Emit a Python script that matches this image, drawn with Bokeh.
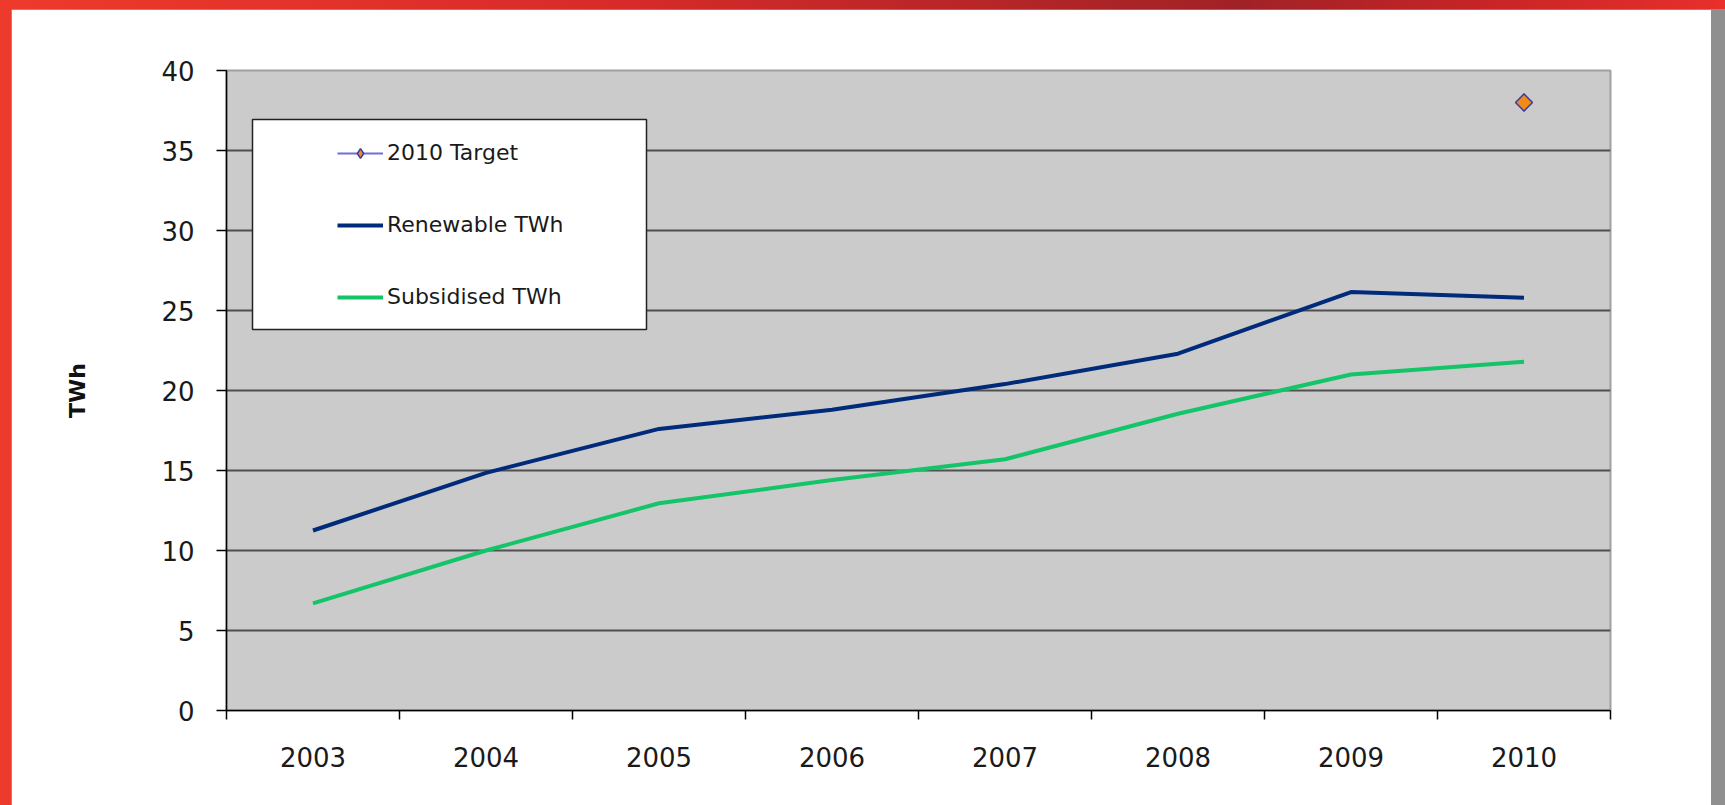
from bokeh.plotting import figure
from bokeh.models import Range1d, FixedTicker, Legend, LegendItem, BoxAnnotation
from bokeh.layouts import column
from bokeh.embed import file_html
from bokeh.resources import INLINE

# ---- data ----
years = [2003, 2004, 2005, 2006, 2007, 2008, 2009, 2010]
x_labels = ["2003", "2004", "2005", "2006", "2007", "2008", "2009", "2010"]
renewable_twh = [11.25, 14.85, 17.6, 18.8, 20.4, 22.3, 26.15, 25.8]
subsidised_twh = [6.7, 10.0, 12.95, 14.4, 15.7, 18.55, 21.0, 21.8]
target_years = [2010]
target_twh = [38.0]
y_ticks = [0, 5, 10, 15, 20, 25, 30, 35, 40]
cat_bounds = [2002.5, 2003.5, 2004.5, 2005.5, 2006.5, 2007.5, 2008.5, 2009.5, 2010.5]

FONT = "DejaVu Sans"

p = figure(width=1700, height=796,
           x_range=Range1d(cat_bounds[0], cat_bounds[-1]),
           y_range=Range1d(y_ticks[0], y_ticks[-1]),
           output_backend="svg", toolbar_location=None,
           min_border_left=215, min_border_right=101,
           min_border_top=61, min_border_bottom=95,
           background_fill_color="#cbcbcb", border_fill_color="white",
           outline_line_color="#a0a0a0", outline_line_width=2)

# x axis: labels at category centres, tick marks at category boundaries
xa = p.xaxis[0]
xa.ticker = FixedTicker(ticks=years, minor_ticks=cat_bounds)
xa.major_label_overrides = {y: l for y, l in zip(years, x_labels)}
xa.major_tick_line_color = None
xa.minor_tick_line_color = "black"
xa.minor_tick_line_width = 1.5
xa.minor_tick_out = 9
xa.minor_tick_in = 0
xa.axis_line_color = "black"
xa.axis_line_width = 1.5
xa.major_label_standoff = 27
xa.major_label_text_font = FONT
xa.major_label_text_font_size = "26px"
xa.major_label_text_color = "#1a1a1a"

ya = p.yaxis[0]
ya.ticker = FixedTicker(ticks=y_ticks)
ya.major_tick_out = 10
ya.major_tick_in = 0
ya.major_tick_line_color = "black"
ya.major_tick_line_width = 1.5
ya.minor_tick_line_color = None
ya.axis_line_color = "black"
ya.axis_line_width = 1.5
ya.major_label_standoff = 22
ya.major_label_text_font = FONT
ya.major_label_text_font_size = "26px"
ya.major_label_text_color = "#1a1a1a"
ya.axis_label = "TWh"
ya.axis_label_text_font = FONT
ya.axis_label_text_font_style = "bold"
ya.axis_label_text_font_size = "22px"
ya.axis_label_text_color = "#111111"
ya.axis_label_standoff = 68

p.xgrid.grid_line_color = None
p.ygrid.grid_line_color = "#505050"
p.ygrid.grid_line_width = 2

r_ren = p.line(years, renewable_twh, line_color="#002a7a", line_width=4)
r_sub = p.line(years, subsidised_twh, line_color="#14c468", line_width=4)
t_line = p.line(target_years, target_twh, line_color="#6f6fd8", line_width=2)
# diamond used for the legend swatch (hidden under the rotated square in the plot)
t_dia = p.scatter(target_years, target_twh, marker="diamond", size=17,
                  fill_color="#f28a1a", line_color="#3b3b9e", line_width=1.5)
t_pt = p.scatter(target_years, target_twh, marker="square", size=12, angle=0.7854,
                 fill_color="#f28a1a", line_color="#3b3b9e", line_width=1.5)

box = BoxAnnotation(left=26, right=420, top=591, bottom=381,
                    left_units="screen", right_units="screen",
                    top_units="screen", bottom_units="screen",
                    fill_color="white", fill_alpha=1.0,
                    line_color="#222222", line_width=1.5, line_alpha=1.0)
p.add_layout(box)

legend = Legend(items=[
    LegendItem(label="2010 Target", renderers=[t_line, t_dia]),
    LegendItem(label="Renewable TWh", renderers=[r_ren]),
    LegendItem(label="Subsidised TWh", renderers=[r_sub]),
], location=(111, 401), padding=0, margin=0, spacing=47,
    glyph_width=46, glyph_height=24, label_height=24, label_standoff=4,
    label_text_font=FONT, label_text_font_size="22px", label_text_color="#1a1a1a",
    border_line_alpha=0, background_fill_alpha=0)
p.add_layout(legend)

layout = column(p, styles={
    "padding": "9px 14px 0px 11px",
    "background": "linear-gradient(#8f8f8f, #8f8f8f) right bottom / 14px calc(100% - 9px) no-repeat, "
                  "linear-gradient(90deg, #ee3a2c 0%, #d82b2a 35%, #a02226 72%, #c42426 85%, #e8302c 100%)",
})

open("out.html", "w").write(file_html(layout, INLINE))
